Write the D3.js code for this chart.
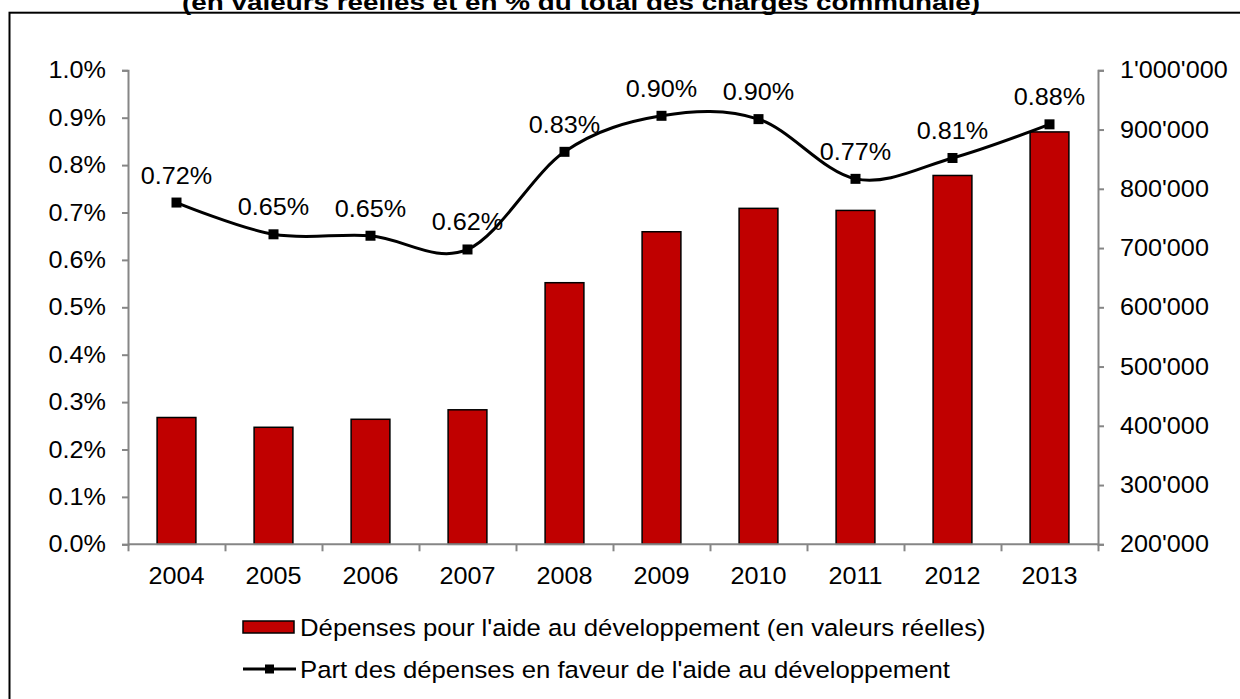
<!DOCTYPE html>
<html>
<head>
<meta charset="utf-8">
<script src="https://cdn.jsdelivr.net/npm/d3@7"></script>
<style>
  body { margin: 0; background: #fff; }
  text { font-family: "Liberation Sans", Arial, sans-serif; fill: #000; }
</style>
</head>
<body>
<div id="chart"></div>
<script>
// data
var years = ['2004', '2005', '2006', '2007', '2008', '2009', '2010', '2011', '2012', '2013'];
var depenses = [414000, 397500, 411000, 427000, 641500, 727500, 767000, 763500, 822500, 896000];
var part = [0.00721, 0.00654, 0.00651, 0.00622, 0.00828, 0.00904, 0.00897, 0.00771, 0.00815, 0.00886];
var partLabels = ['0.72%', '0.65%', '0.65%', '0.62%', '0.83%', '0.90%', '0.90%', '0.77%', '0.81%', '0.88%'];
var leftTicks = [0, 0.001, 0.002, 0.003, 0.004, 0.005, 0.006, 0.007, 0.008, 0.009, 0.01];
var rightTicks = [200000, 300000, 400000, 500000, 600000, 700000, 800000, 900000, 1000000];
var titleText = "(en valeurs réelles et en % du total des charges communale)";
var legendBars = "Dépenses pour l'aide au développement (en valeurs réelles)";
var legendLine = "Part des dépenses en faveur de l'aide au développement";

var width = 1240,
    height = 699;

var plot = {
    left: 128,
    right: 1098,
    top: 70.3,
    bottom: 544.3
}

var stretch = 1.05;
var fontSize = '24px';

var svg = d3.select('#chart')
    .append('svg')
    .attr('width', width)
    .attr('height', height);

// frame
svg.append('rect')
    .attr('x', 9.5)
    .attr('y', 12.7)
    .attr('width', 1300)
    .attr('height', 800)
    .attr('fill', 'none')
    .attr('stroke', '#000')
    .attr('stroke-width', 2);

// title (only the lower line is visible)
svg.append('text')
    .attr('x', 182)
    .attr('y', 10)
    .style('font-size', '22px')
    .style('font-weight', 'bold')
    .attr('textLength', 798)
    .attr('lengthAdjust', 'spacingAndGlyphs')
    .text(titleText);

var x_scale = d3.scaleBand()
    .domain(years)
    .range([plot.left, plot.right])
    .padding(0);

var x_edges = d3.scaleLinear()
    .domain([0, years.length])
    .range([plot.left, plot.right]);

var y_left = d3.scaleLinear()
    .domain([0, 0.01])
    .range([plot.bottom, plot.top]);

var y_right = d3.scaleLinear()
    .domain([200000, 1000000])
    .range([plot.bottom, plot.top]);

var swiss = d3.formatLocale({
    decimal: '.',
    thousands: "'",
    grouping: [3],
    currency: ['', '']
});

var barWidth = x_scale.bandwidth() / 2.5;

// bars
svg.selectAll('.bar')
    .data(years)
    .enter()
    .append('rect')
    .attr('class', 'bar')
    .attr('x', function(d) {
        return x_scale(d) + (x_scale.bandwidth() - barWidth) / 2;
    })
    .attr('width', barWidth)
    .attr('y', function(d, i) {
        return y_right(depenses[i]);
    })
    .attr('height', function(d, i) {
        return plot.bottom - y_right(depenses[i]);
    })
    .attr('fill', '#C00000')
    .attr('stroke', '#000')
    .attr('stroke-width', 1.5);

// axes
var axisGrey = '#868686';

var leftAxis = svg.append('g')
    .attr('class', 'y axis')
    .attr('transform', 'translate(' + plot.left + ',0)')
    .call(d3.axisLeft(y_left)
        .tickValues(leftTicks)
        .tickFormat(d3.format('.1%'))
        .tickSize(6)
        .tickPadding(16));

var rightAxis = svg.append('g')
    .attr('class', 'y axis2')
    .attr('transform', 'translate(' + plot.right + ',0)')
    .call(d3.axisRight(y_right)
        .tickValues(rightTicks)
        .tickFormat(swiss.format(','))
        .tickSize(6)
        .tickPadding(16));

var xTicks = svg.append('g')
    .attr('class', 'x ticks')
    .attr('transform', 'translate(0,' + plot.bottom + ')')
    .call(d3.axisBottom(x_edges)
        .tickValues(d3.range(years.length + 1))
        .tickFormat('')
        .tickSize(7)
        .tickSizeOuter(0));

var xAxis = svg.append('g')
    .attr('class', 'x axis')
    .attr('transform', 'translate(0,' + plot.bottom + ')')
    .call(d3.axisBottom(x_scale)
        .tickSize(0)
        .tickPadding(23));

[leftAxis, rightAxis, xTicks, xAxis].forEach(function(a) {
    a.selectAll('path, line')
        .attr('stroke', axisGrey)
        .attr('stroke-width', 2);
    a.selectAll('text')
        .style('font-size', fontSize)
        .attr('fill', '#000')
        .attr('font-family', null);
});
xAxis.select('.domain').remove();
xTicks.select('.domain').attr('d', 'M' + plot.left + ',0H' + plot.right);

// line
var line = d3.line()
    .x(function(d, i) {
        return x_scale(years[i]) + x_scale.bandwidth() / 2;
    })
    .y(function(d) {
        return y_left(d);
    })
    .curve(d3.curveCardinal.tension(0));

svg.append('path')
    .datum(part)
    .attr('d', line)
    .attr('fill', 'none')
    .attr('stroke', '#000')
    .attr('stroke-width', 3);

var msize = 10;

svg.selectAll('.marker')
    .data(part)
    .enter()
    .append('rect')
    .attr('class', 'marker')
    .attr('x', function(d, i) {
        return x_scale(years[i]) + x_scale.bandwidth() / 2 - msize / 2;
    })
    .attr('y', function(d) {
        return y_left(d) - msize / 2;
    })
    .attr('width', msize)
    .attr('height', msize)
    .attr('fill', '#000');

svg.selectAll('.dlabel')
    .data(part)
    .enter()
    .append('text')
    .attr('class', 'dlabel')
    .attr('x', function(d, i) {
        return x_scale(years[i]) + x_scale.bandwidth() / 2;
    })
    .attr('y', function(d) {
        return y_left(d) - 19;
    })
    .attr('text-anchor', 'middle')
    .style('font-size', fontSize)
    .text(function(d, i) {
        return partLabels[i];
    });

// legend
var legend = svg.append('g').attr('class', 'legend');

legend.append('rect')
    .attr('x', 243)
    .attr('y', 621)
    .attr('width', 51)
    .attr('height', 12)
    .attr('fill', '#C00000')
    .attr('stroke', '#000')
    .attr('stroke-width', 1.5);

legend.append('text')
    .attr('x', 300)
    .attr('y', 636)
    .style('font-size', '24.5px')
    .text(legendBars);

legend.append('line')
    .attr('x1', 243)
    .attr('x2', 296)
    .attr('y1', 669)
    .attr('y2', 669)
    .attr('stroke', '#000')
    .attr('stroke-width', 3);

legend.append('rect')
    .attr('x', 269.5 - 4.5)
    .attr('y', 669 - 4.5)
    .attr('width', 9)
    .attr('height', 9)
    .attr('fill', '#000');

legend.append('text')
    .attr('x', 300)
    .attr('y', 678)
    .style('font-size', '24.5px')
    .text(legendLine);

// the original text is a bit wider than Arial: stretch horizontally
svg.selectAll('text').each(function() {
    if (this.getAttribute('textLength')) return;
    var w = this.getComputedTextLength();
    d3.select(this)
        .attr('textLength', w * stretch)
        .attr('lengthAdjust', 'spacingAndGlyphs');
});
</script>
</body>
</html>
